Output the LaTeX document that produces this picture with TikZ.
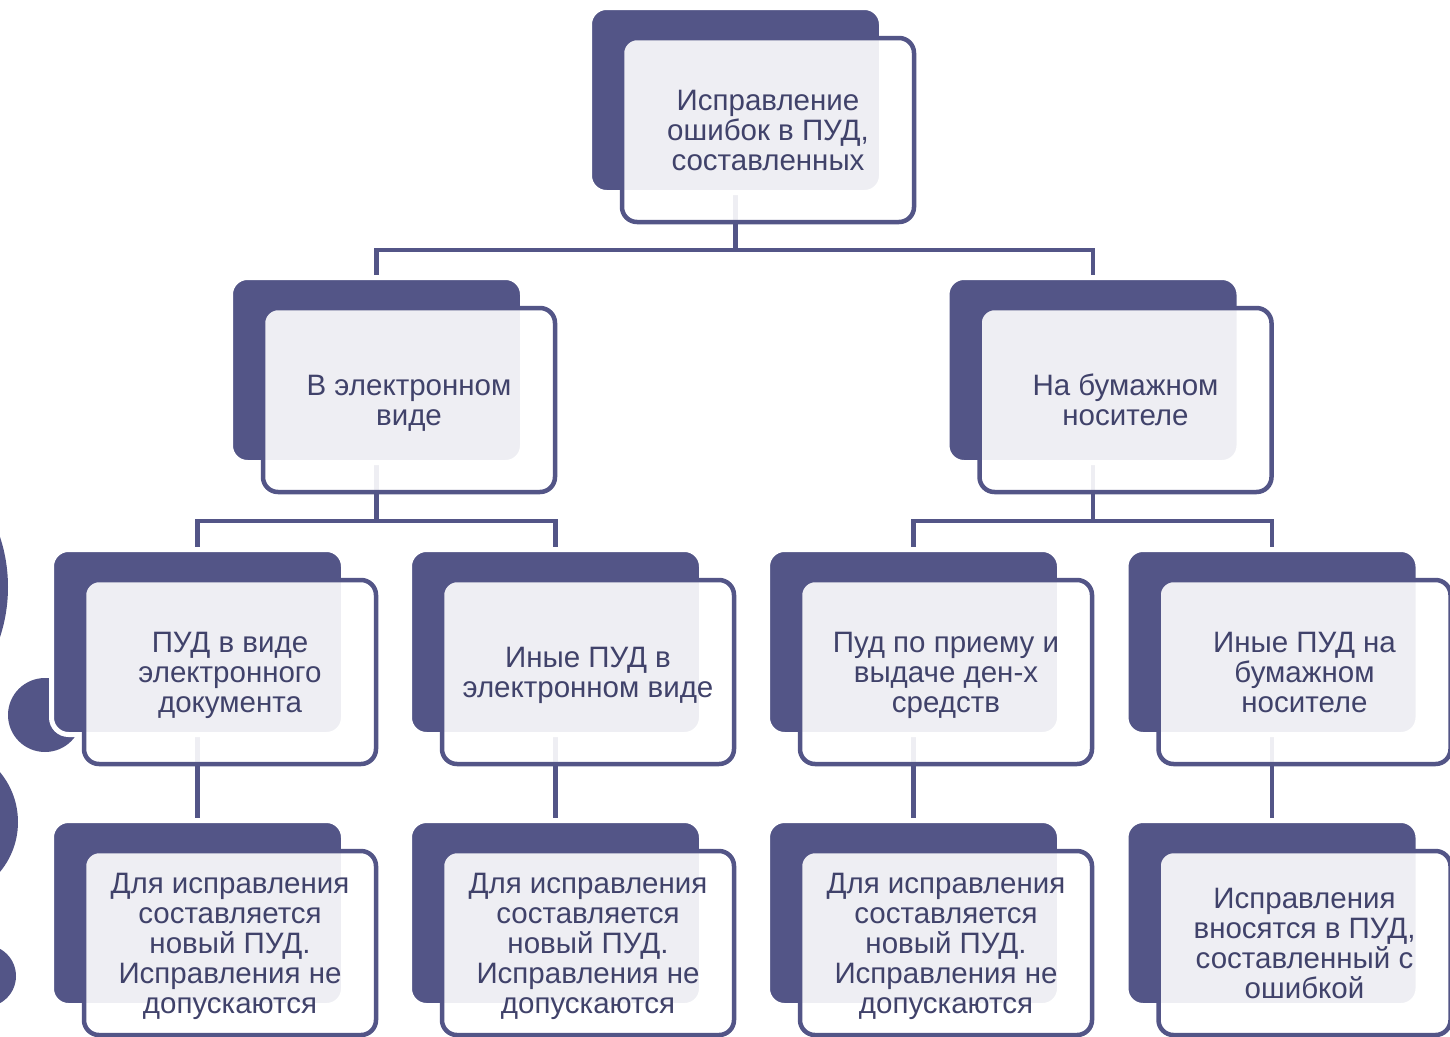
\documentclass[tikz,border=0pt]{standalone}
\usepackage{fontspec}
\setmainfont{Liberation Sans}
\usetikzlibrary{calc}
\definecolor{boxdark}{RGB}{83,85,135}
\definecolor{textdark}{RGB}{64,66,106}
\pgfdeclarelayer{bg}
\pgfsetlayers{bg,main}
\tikzset{
  darkbox/.style={draw=white, line width=5pt, fill=boxdark, rounded corners=17pt,
    minimum width=292pt, minimum height=185pt, inner sep=0pt},
  frontbox/.style={draw=boxdark, line width=4.5pt, fill=white, fill opacity=0.9,
    text opacity=1, rounded corners=15pt, minimum width=292pt, minimum height=184pt,
    inner sep=0pt, align=center, text=textdark, text depth=0pt,
    font=\fontsize{29.5}{30}\selectfont},
  conn/.style={draw=boxdark, line width=4.5pt},
  deco/.style={fill=boxdark}
}
\begin{document}
\begin{tikzpicture}[x=1pt,y=-1pt]
\useasboundingbox (0,0) rectangle (1450,1036);
\clip (0,0) rectangle (1450,1036);

% level 1
\node[darkbox] (dt) at (735.5,100) {};
\node[frontbox] (ft) at ($(dt)+(32.5,30)$) {Исправление\\ошибок в ПУД,\\составленных};
% level 2
\node[darkbox] (dl) at (376.5,370) {};
\node[frontbox] (fl) at ($(dl)+(32.5,30)$) {В электронном\\виде};
\node[darkbox] (dr) at (1093,370) {};
\node[frontbox] (fr) at ($(dr)+(32.5,30)$) {На бумажном\\носителе};
% level 3
\node[darkbox] (d1) at (197.5,642) {};
\node[frontbox] (f1) at ($(d1)+(32.5,30)$) {ПУД в виде\\электронного\\документа};
\node[darkbox] (d2) at (555.5,642) {};
\node[frontbox] (f2) at ($(d2)+(32.5,30)$) {Иные ПУД в\\электронном виде};
\node[darkbox] (d3) at (913.5,642) {};
\node[frontbox] (f3) at ($(d3)+(32.5,30)$) {Пуд по приему и\\выдаче ден-х\\средств};
\node[darkbox] (d4) at (1272,642) {};
\node[frontbox] (f4) at ($(d4)+(32.5,30)$) {Иные ПУД на\\бумажном\\носителе};
% level 4
\node[darkbox] (e1) at (197.5,913) {};
\node[frontbox] (g1) at ($(e1)+(32.5,30)$) {Для исправления\\составляется\\новый ПУД.\\Исправления не\\допускаются};
\node[darkbox] (e2) at (555.5,913) {};
\node[frontbox] (g2) at ($(e2)+(32.5,30)$) {Для исправления\\составляется\\новый ПУД.\\Исправления не\\допускаются};
\node[darkbox] (e3) at (913.5,913) {};
\node[frontbox] (g3) at ($(e3)+(32.5,30)$) {Для исправления\\составляется\\новый ПУД.\\Исправления не\\допускаются};
\node[darkbox] (e4) at (1272,913) {};
\node[frontbox] (g4) at ($(e4)+(32.5,30)$) {Исправления\\вносятся в ПУД,\\составленный с\\ошибкой};

\coordinate (b0) at (735.5,250);
\coordinate (bL) at (376.5,521);
\coordinate (bR) at (1093,521);

\begin{pgfonlayer}{bg}
  \clip (0,0) rectangle (1450,1036);
  \fill[white] (0,0) rectangle (1450,1036);
  % decorative circles
  \fill[deco] (-152,587) circle[radius=160];
  \fill[deco] (45,715) circle[radius=37];
  \fill[deco] (-60,822) circle[radius=78];
  \fill[deco] (-15,976) circle[radius=31];
  % connectors
  \draw[conn] (dt.center) -- (b0);
  \draw[conn] (dl.center) |- (b0) -| (dr.center);
  \draw[conn] (dl.center) -- (bL);
  \draw[conn] (d1.center) |- (bL) -| (d2.center);
  \draw[conn] (dr.center) -- (bR);
  \draw[conn] (d3.center) |- (bR) -| (d4.center);
  \draw[conn] (d1.center) -- (e1.center);
  \draw[conn] (d2.center) -- (e2.center);
  \draw[conn] (d3.center) -- (e3.center);
  \draw[conn] (d4.center) -- (e4.center);
\end{pgfonlayer}
\end{tikzpicture}
\end{document}
